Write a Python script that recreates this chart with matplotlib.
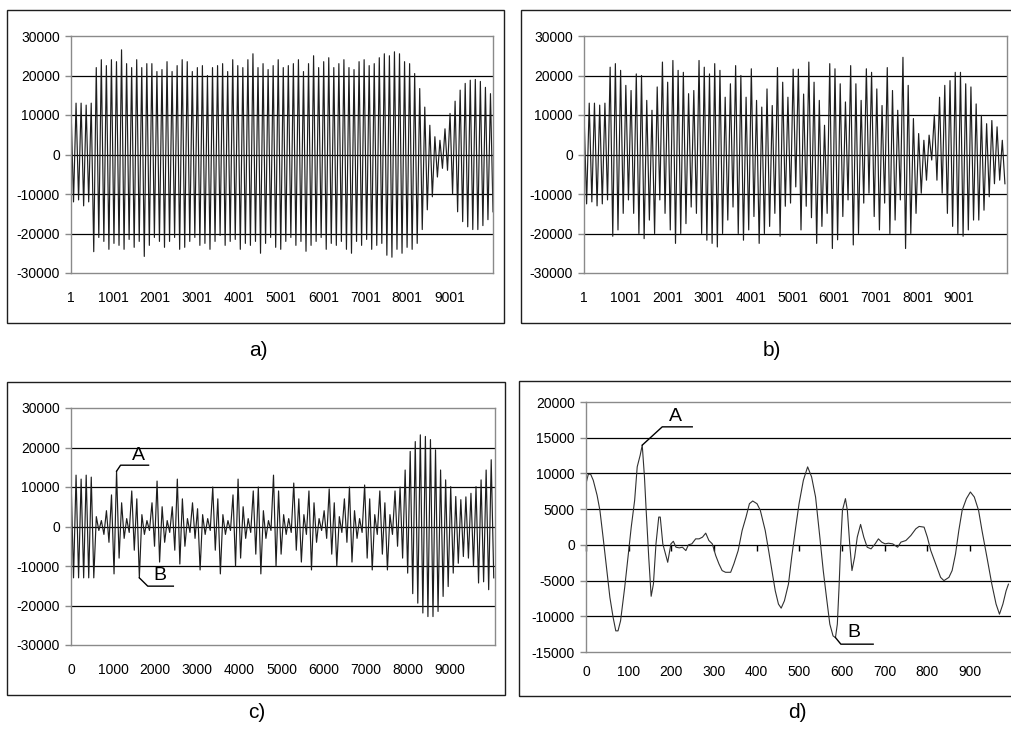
import numpy as np
import matplotlib
matplotlib.use('Agg')
import matplotlib.pyplot as plt
from matplotlib.patches import Rectangle
from matplotlib.lines import Line2D

plt.rcParams['font.family'] = ['Liberation Sans', 'DejaVu Sans']
plt.rcParams['axes.unicode_minus'] = False

# ---------------- data (values in thousands, per oscillation cycle) ----------------
# panel a: positive and negative extremes of each cycle
a_peaks = [12, 13, 13, 12.5, 13,
           22, 24, 22.5, 24, 23.5, 26.5, 23, 22, 24, 22,
           23, 23, 21, 21.5, 23.5, 21, 22.5, 24, 23.5, 21,
           22, 22.5, 20, 22, 22.5, 23, 21, 24, 22.5, 22,
           24, 25.5, 22, 23, 21.5, 22.5, 24, 22, 22.5, 23,
           24, 21, 23, 25, 22, 23.5, 24.5, 22, 23, 24,
           22, 21.5, 23.5, 24, 22.5, 23, 24.5, 25.5, 25, 26,
           25.5, 23.5, 23,
           20.5, 16.7, 12, 7.4, 4.5, 3.6, 6.5, 10.4, 13.5, 16.3, 18, 18.8, 19, 18.5, 17, 15.4]
a_troughs = [-12, -11.5, -13, -12, -24.6,
             -21, -22, -24, -22.5, -23, -24, -21.5, -23.5, -22, -25.8,
             -23, -21, -22, -23.5, -22, -21, -24, -23.5, -22, -21,
             -23, -22.5, -24, -22, -20.5, -23, -22, -21.5, -24, -22.5,
             -23, -22, -25, -22.5, -21, -23.5, -24, -22, -21, -23,
             -22, -24.5, -23, -22, -21, -24, -22.5, -23, -22, -24,
             -25, -22, -23, -21.5, -24, -23, -22.5, -25.5, -26, -24,
             -25, -23.5, -24,
             -22.5, -19, -14, -10.7, -5.7, -3.5, -4, -10, -14.5, -17, -18.3, -19, -19, -18, -16.5, -14.5]

# panel b
b_peaks = [10.7, 13, 13, 12.5, 13,
           22.1, 23, 21.3, 17.5, 16.2, 20.4, 20, 13.7, 11.2, 17.1,
           23.4, 18.3, 23.8, 21.3, 20.8, 15.4, 16.2, 23.8, 22.1, 20.4,
           23, 21.3, 14.5, 17.9, 22.5, 20, 14.5, 21.7, 13.7, 12,
           16.6, 12.4, 22, 18.3, 14.5, 21.6, 21.6, 15.3, 23.4, 18.3,
           13.7, 7.4, 23, 21.7, 17.9, 13.3, 22.5, 17.9, 13.7, 21.7,
           20.8, 16.6, 12.4, 22, 16.2, 11.2, 24.6, 17.5, 9.1, 5.3,
           3.6, 4.9, 10, 14.5, 17.5, 18.7, 20.8, 20.8, 17.9, 17.1,
           12.8, 9.9, 7.8, 8.6, 7, 3.6]
b_troughs = [-12.5, -12, -13, -12.5, -11.5,
             -20.7, -19.1, -14.9, -11.5, -14.9, -20, -21.3, -16.6, -20, -11.5,
             -14.9, -19.1, -22.5, -20, -17.5, -13.3, -14.9, -20, -21.7, -22.5,
             -23.4, -20, -16.6, -13.3, -20, -21.7, -19.1, -15.7, -22.5, -20,
             -18.2, -14.9, -20.7, -13.1, -12.3, -8.2, -19.1, -13.1, -16, -22.5,
             -18.2, -14.9, -23.8, -21.6, -15.7, -11.5, -22.9, -20, -12.3, -9.8,
             -15.7, -19.1, -12.3, -20, -16.6, -11.5, -23.8, -20, -14.9, -9.8,
             -6.5, -1.4, -6.5, -9.8, -14.9, -18.2, -20, -20.7, -19.1, -16.6,
             -16.6, -14.1, -10.7, -7.4, -6.5, -7.4]

# panel c
c_peaks = [12.5, 13, 12, 13, 12.5,
           2.5, 1.5, 4, 8, 14, 6, 2, 9, 7, 3,
           1.5, 6, 11.5, 5, 1.5, 5, 12, 7, 2, 6,
           4.5, 3, 2, 10, 7, 3, 1.5, 8, 12, 5,
           2, 9, 10, 4, 1.5, 13, 9, 3, 2, 11,
           7, 3, 9, 6, 2, 4, 9.5, 6, 2.5, 7,
           10, 4, 2, 10.5, 7, 3, 9, 6, 3,
           9, 10, 14.3, 19, 21.5, 23.2, 22.8, 22, 19.4, 14.3,
           11.8, 10.1, 7.6, 6.8, 7.5, 8.4, 10.1, 11.8, 14.3, 16.9]
c_troughs = [-13, -13, -13, -13, -13,
             -1, -2, -4, -12, -8, -3, -1.5, -6, -13, -2,
             -1, -5, -9, -4, -1.5, -6, -9.5, -5, -1.5, -3,
             -11, -2, -1, -6, -12, -2, -1, -10, -8, -3,
             -1.5, -7, -12, -3, -1, -10, -7, -2, -1.5, -6,
             -9, -2, -11, -4, -1, -3, -7, -10, -1.5, -4,
             -9, -3, -1.5, -8, -11, -2, -7, -11, -2,
             -5, -8, -11.8, -17, -19.4, -21.9, -22.8, -22.8, -21.5, -17.7,
             -15.2, -11.8, -9.3, -7.6, -8, -10, -14.3, -14, -16, -13]

# panel d: sample index and value (thousands)
d_x = [0, 5.4, 10.9, 17, 26, 32.6, 40, 48, 56, 63.6,
       69.8, 75, 81, 90.7, 98.4, 106, 114, 120, 127, 131.8,
       137, 141, 147, 152.7, 158, 164, 170.5, 174, 180, 191.5,
       199, 204.7, 210.9, 218.6, 226, 234, 240, 248, 257, 265,
       273, 280.6, 288, 296, 304, 311.6, 319, 327, 339, 346.5,
       356.6, 365.9, 375, 383, 390.7, 400.8, 408.5, 420, 428, 435.7,
       443.5, 451, 457.4, 465, 474.5, 482, 491.5, 499.3, 509.4, 519.4,
       528.7, 538, 548, 556, 563.6, 571.4, 579, 584.6, 589, 593,
       597, 601, 608, 612.5, 618, 623.3, 629.5, 635.7, 643.5, 651,
       659, 668, 677.6, 685.3, 693, 701, 708.6, 718.7, 730.3, 738,
       749.7, 761.3, 773, 780.7, 792.3, 800, 808, 819.5, 831, 838.8,
       850.5, 858, 866, 873.7, 881.5, 891.5, 900.8, 910, 920, 928,
       939.6, 951, 961, 969, 977, 984.6, 990]
d_y = [8.58, 9.89, 9.89, 9.04, 6.94, 4.83, 1.08, -3.14, -7.36, -10.17,
       -12.04, -12.04, -10.64, -5.95, -1.73, 2.48, 6.23, 10.92, 12.56, 13.96,
       9.51, 4.83, -1.73, -7.2, -5.48, 0.14, 3.89, 3.89, 0.14, -2.44,
       0.14, 0.5, -0.33, -0.42, -0.33, -0.8, 0, 0.14, 0.84, 0.84,
       1.08, 1.64, 0.61, 0.14, -1.5, -2.67, -3.6, -3.84, -3.84, -2.67,
       -0.8, 2.01, 3.89, 5.76, 6.14, 5.76, 4.83, 2.01, -0.8, -3.6,
       -6.42, -8.29, -8.86, -7.83, -5.48, -1.73, 2.48, 5.76, 9.04, 10.92,
       9.51, 6.7, 1.08, -3.6, -7.36, -11.1, -12.75, -12.98, -11.1, -5.95,
       0.14, 4.83, 6.47, 4.83, 0.14, -3.6, -1.73, 1.08, 2.86, 1.08,
       -0.33, -0.56, 0.14, 0.84, 0.38, 0.14, 0.23, 0.14, -0.33, 0.38,
       0.61, 1.31, 2.25, 2.58, 2.48, 1.08, -0.8, -2.67, -4.55, -5.01,
       -4.55, -3.6, -1.27, 2.01, 4.83, 6.47, 7.4, 6.7, 4.83, 2.01,
       -1.73, -5.48, -8.29, -9.7, -8.29, -6.42, -5.5]

ab_xticks = [1, 1001, 2001, 3001, 4001, 5001, 6001, 7001, 8001, 9001]
c_xticks = [0, 1000, 2000, 3000, 4000, 5000, 6000, 7000, 8000, 9000]
d_xticks = [0, 100, 200, 300, 400, 500, 600, 700, 800, 900]
panel_labels = ['a)', 'b)', 'c)', 'd)']


def wave(peaks, troughs):
    n = min(len(peaks), len(troughs))
    v = np.empty(2 * n)
    v[0::2] = np.asarray(peaks[:n]) * 1000
    v[1::2] = np.asarray(troughs[:n]) * 1000
    return v


W, H = 1011, 729
fig = plt.figure(figsize=(W / 100, H / 100), dpi=100)


def axes_px(x0, y0, x1, y1):
    return fig.add_axes([x0 / W, 1 - y1 / H, (x1 - x0) / W, (y1 - y0) / H])


def frame_px(x0, y0, x1, y1):
    fig.add_artist(Rectangle((x0 / W, 1 - y1 / H), (x1 - x0) / W, (y1 - y0) / H,
                             transform=fig.transFigure, fill=False,
                             ec='#1e1e1e', lw=1.0))


LINE_C = '#1e1e1e'
FS = 10


def style(ax, ylim, ystep, xticks, xlim, xpad):
    ax.set_xlim(*xlim)
    ax.set_ylim(*ylim)
    yt = np.arange(ylim[0], ylim[1] + 1, ystep)
    ax.set_yticks(yt)
    ax.set_yticklabels([str(int(v)) for v in yt])
    ax.set_xticks(xticks)
    ax.set_xticklabels([str(v) for v in xticks])
    for v in yt[1:-1]:
        ax.axhline(v, color='black', lw=0.9, zorder=0.5)
    for s in ax.spines.values():
        s.set_color('#8a8a8a')
        s.set_linewidth(1.0)
    ax.tick_params(axis='y', length=4, width=1, color='#8a8a8a', pad=4, labelsize=FS)
    ax.tick_params(axis='x', length=0, pad=xpad, labelsize=FS)


# outer frames
frame_px(7, 10, 504, 323)
frame_px(521, 10, 1016, 323)
frame_px(7, 382, 505, 695)
frame_px(519, 381, 1016, 696)

# panel a
ax_a = axes_px(71, 36, 493, 273)
ya = wave(a_peaks, a_troughs)
ax_a.plot(np.linspace(1, 10040, len(ya)), ya, color=LINE_C, lw=0.85)
style(ax_a, (-30000, 30000), 10000, ab_xticks, (1, 10040), 13)

# panel b
ax_b = axes_px(584, 36, 1007, 273)
yb = wave(b_peaks, b_troughs)
ax_b.plot(np.linspace(1, 10100, len(yb)), yb, color=LINE_C, lw=0.85)
style(ax_b, (-30000, 30000), 10000, ab_xticks, (1, 10150), 13)

# panel c
ax_c = axes_px(71, 408, 495, 645)
yc = wave(c_peaks, c_troughs)
xc = np.linspace(0, 10040, len(yc))
ax_c.plot(xc, yc, color=LINE_C, lw=0.85)
style(ax_c, (-30000, 30000), 10000, c_xticks, (0, 10070), 13)

# panel d
ax_d = axes_px(586, 402, 1011, 652)
xd = np.asarray(d_x)
yd = np.asarray(d_y) * 1000
ax_d.plot(xd, yd, color='#303030', lw=0.8)
style(ax_d, (-15000, 20000), 5000, d_xticks, (0, 996), 9)
ax_d.spines['right'].set_visible(False)
sec = ax_d.secondary_xaxis(15000 / 35000)
sec.set_xticks(d_xticks)
sec.xaxis.set_ticks_position('bottom')
sec.tick_params(axis='x', length=4, width=1, color='black', labelbottom=False, labeltop=False)
for s in sec.spines.values():
    s.set_visible(False)


# call-outs A / B (leader + underline + letter), anchored to data extremes
def callout(ax, x, y, label, leader, ul_len, txt_off):
    p0 = ax.transData.transform((x, y))
    p1 = p0 + np.array(leader)
    p2 = p1 + np.array([ul_len, 0])
    inv = fig.transFigure.inverted()
    q0, q1, q2 = inv.transform([p0, p1, p2])
    fig.add_artist(Line2D([q0[0], q1[0], q2[0]], [q0[1], q1[1], q2[1]],
                          transform=fig.transFigure, color='black', lw=1.0))
    t = inv.transform(p1 + np.array(txt_off))
    fig.text(t[0], t[1], label, ha='center', va='center', fontsize=14)


# panel c: A = largest peak before the final burst, B = deepest trough after the start
mask = (xc > 650) & (xc < 7000)
iA = np.where(mask)[0][np.argmax(yc[mask])]
iB = np.where(mask)[0][np.argmin(yc[mask])]
callout(ax_c, xc[iA], yc[iA], 'A', (4, 6), 28, (17.5, 10))
callout(ax_c, xc[iB], yc[iB], 'B', (8.4, -8.3), 25.6, (12.3, 10.8))

# panel d: A = maximum, B = minimum
jA = int(np.argmax(yd))
jB = int(np.argmin(yd))
callout(ax_d, xd[jA], yd[jA], 'A', (20, 18.3), 30, (13.7, 10.7))
callout(ax_d, xd[jB], yd[jB], 'B', (5.4, -6.6), 32.3, (12.8, 12))

# panel letters
for lab, (px, py) in zip(panel_labels, [(258, 350), (772, 350), (257, 712), (797, 712)]):
    fig.text(px / W, 1 - py / H, lab, ha='center', va='center', fontsize=15)

fig.savefig('out.png', dpi=100)
